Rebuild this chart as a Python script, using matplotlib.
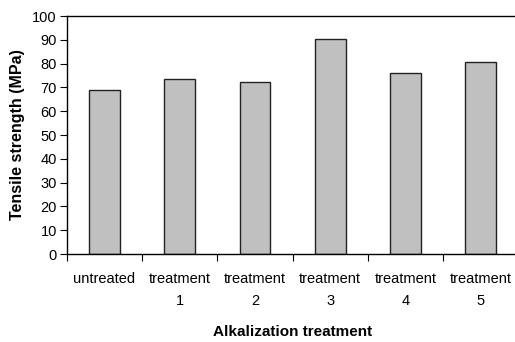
import numpy as np
import matplotlib
matplotlib.use('Agg')
from matplotlib import pyplot as plt

categories = ['untreated', 'treatment\n1', 'treatment\n2', 'treatment\n3', 'treatment\n4', 'treatment\n5']
strength = [68.9, 73.7, 72.1, 90.5, 75.9, 80.8]
yticks = list(range(0, 101, 10))

plt.rcParams['font.family'] = ['Liberation Sans', 'DejaVu Sans']

fig = plt.figure(figsize=(5.15, 3.42), dpi=100)
ax = fig.add_axes([0.1295, 0.2573, 0.8773, 0.6957])

x = np.arange(len(categories))
ax.bar(x, strength, width=0.41, color='#c0c0c0', edgecolor='#222222', linewidth=1.0)

ax.set_xlim(-0.5, len(categories) - 0.5)
ax.set_ylim(0, 100)
ax.set_yticks(yticks)
# boundary ticks between categories, labels centred on the bars
ax.set_xticks(np.arange(len(categories) + 1) - 0.5)
ax.set_xticklabels([])
ax.set_xticks(x, minor=True)
ax.set_xticklabels(categories, minor=True, fontsize=10.5, linespacing=1.75)
ax.tick_params(axis='x', which='minor', length=0, pad=13)
ax.tick_params(axis='x', which='major', length=5, direction='out')
ax.tick_params(axis='y', labelsize=10.5, length=5, pad=2)

ax.spines['right'].set_visible(False)
for s in ['top', 'left', 'bottom']:
    ax.spines[s].set_linewidth(1.0)

ax.set_ylabel('Tensile strength (MPa)', fontsize=11.5, fontweight='bold', labelpad=5)
ax.set_xlabel('Alkalization treatment', fontsize=11, fontweight='bold', labelpad=12)

fig.savefig('out.png', dpi=100)
